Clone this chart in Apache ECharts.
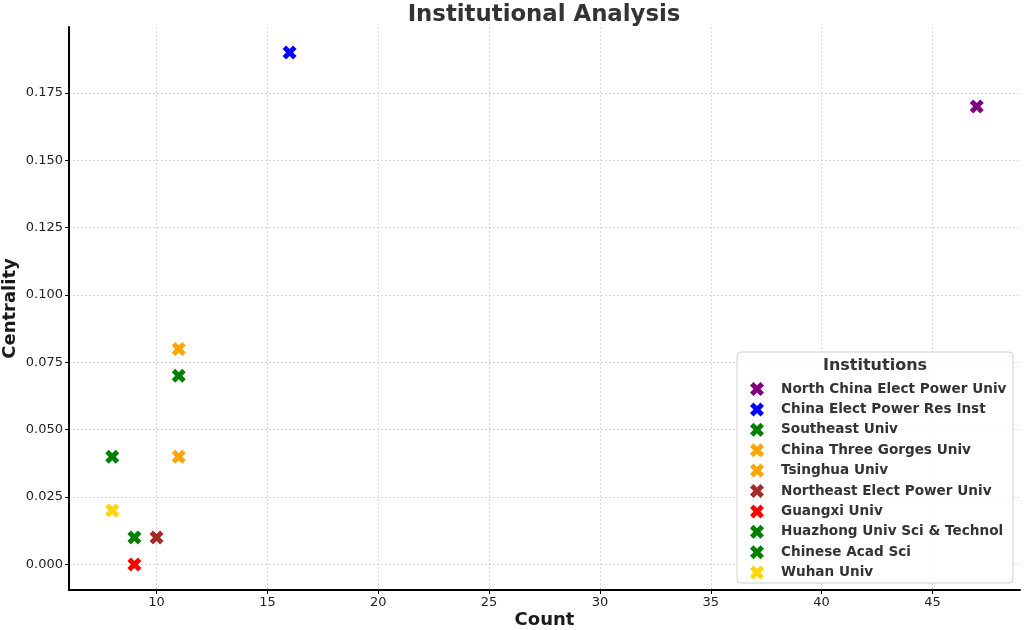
<!DOCTYPE html>
<html>
<head>
<meta charset="utf-8">
<script src="https://cdn.jsdelivr.net/npm/echarts@6/dist/echarts.min.js"></script>
<style>html,body{margin:0;padding:0;background:#fff;}#c{width:1024px;height:630px;}</style>
</head>
<body>
<div id="c"></div>
<script>
const institutions = ['North China Elect Power Univ','China Elect Power Res Inst','Southeast Univ','China Three Gorges Univ','Tsinghua Univ','Northeast Elect Power Univ','Guangxi Univ','Huazhong Univ Sci & Technol','Chinese Acad Sci','Wuhan Univ'];
const counts = [47, 16, 11, 11, 11, 10, 9, 9, 8, 8];
const centrality = [0.17, 0.19, 0.07, 0.08, 0.04, 0.01, 0.00, 0.01, 0.04, 0.02];
const colors = ['#800080','#0000ff','#008000','#ffa500','#ffa500','#a52a2a','#ff0000','#008000','#008000','#ffd700'];
const xTicks = [10, 15, 20, 25, 30, 35, 40, 45];
const yTicks = [0, 0.025, 0.05, 0.075, 0.1, 0.125, 0.15, 0.175];

const X_PATH = 'path://M0,1 L1,0 L2,1 L3,0 L4,1 L3,2 L4,3 L3,4 L2,3 L1,4 L0,3 L1,2 Z';
const FONT = 'DejaVu Sans';

const chart = echarts.init(document.getElementById('c'), null, {renderer: 'canvas'});
const series = institutions.map((n, i) => ({
  name: n,
  type: 'scatter',
  symbol: X_PATH,
  symbolSize: 14,
  itemStyle: {color: colors[i], opacity: 1},
  data: [[counts[i], centrality[i]]],
  z: 5
}));

const axisCommon = {
  axisLine: {show: true, onZero: false, lineStyle: {color: '#000', width: 2}},
  axisTick: {show: true, inside: false, length: 4, lineStyle: {color: '#000', width: 1}},
  splitLine: {show: true, lineStyle: {color: '#d0d0d0', type: [2, 2], width: 0.8}},
  nameTextStyle: {fontFamily: FONT, fontWeight: 'bold', fontSize: 18, color: '#1a1a1a'},
  nameMoveOverlap: false,
};

chart.setOption({
  backgroundColor: '#fff',
  animation: false,
  title: {
    text: 'Institutional Analysis',
    left: 539, top: -1, textAlign: 'center',
    textStyle: {fontFamily: FONT, fontWeight: 'bold', fontSize: 22.8, color: '#333'}
  },
  grid: {left: 69, right: 4, top: 27, bottom: 40, containLabel: false, outerBoundsMode: 'none'},
  xAxis: Object.assign({}, axisCommon, {
    type: 'value', min: 6.05, max: 48.95,
    name: 'Count', nameLocation: 'middle', nameGap: 21,
    axisTick: Object.assign({}, axisCommon.axisTick, {customValues: xTicks}),
    axisLabel: {customValues: xTicks, fontFamily: FONT, fontSize: 13, color: '#222', margin: 6},
  }),
  yAxis: Object.assign({}, axisCommon, {
    type: 'value', min: -0.0095, max: 0.1995,
    name: 'Centrality', nameLocation: 'middle', nameGap: 50,
    axisTick: Object.assign({}, axisCommon.axisTick, {customValues: yTicks}),
    axisLabel: {customValues: yTicks, fontFamily: FONT, fontSize: 13, color: '#222', margin: 6,
      formatter: v => v.toFixed(3)},
  }),
  legend: {
    orient: 'vertical',
    left: 745, top: 377,
    itemWidth: 14, itemHeight: 14, itemGap: 6.4,
    icon: X_PATH,
    data: institutions,
    textStyle: {fontFamily: FONT, fontWeight: 'bold', fontSize: 13.6, color: '#333', padding: [0, 0, 0, 12]},
    z: 20
  },
  graphic: [
    {type: 'rect', x: 737, y: 352, z: 10,
      shape: {x: 0, y: 0, width: 276, height: 231, r: 4},
      style: {fill: 'rgba(255,255,255,0.85)', stroke: '#d0d0d0', lineWidth: 1}},
    {type: 'text', x: 875, y: 358, z: 11,
      style: {text: 'Institutions', x: 0, y: 0, align: 'center', verticalAlign: 'top', fontFamily: FONT, fontWeight: 'bold', fontSize: 16, fill: '#333'}}
  ],
  series: series
});
</script>
</body>
</html>
